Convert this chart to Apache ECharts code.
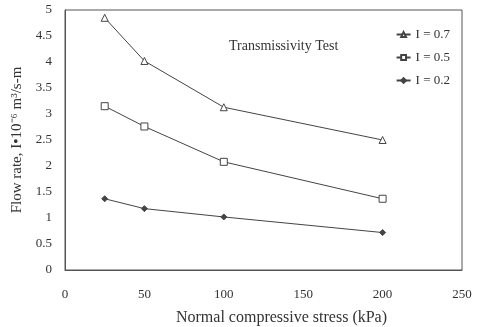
<!DOCTYPE html>
<html><head><meta charset="utf-8">
<script src="https://cdn.jsdelivr.net/npm/echarts@6/dist/echarts.min.js"></script>
<style>html,body{margin:0;padding:0;background:#fff}#c{width:483px;height:327px}</style>
</head><body><div id="c"></div>
<script>
const stress = [25, 50, 100, 200];
const flow07 = [4.85, 4.02, 3.13, 2.5];
const flow05 = [3.15, 2.76, 2.08, 1.37];
const flow02 = [1.37, 1.18, 1.02, 0.72];
const seriesNames = ['I = 0.7', 'I = 0.5', 'I = 0.2'];
const xTicks = [0, 50, 100, 150, 200, 250];
const yTicks = [0, 0.5, 1, 1.5, 2, 2.5, 3, 3.5, 4, 4.5, 5];

const font = 'Liberation Serif';
const txt = '#333';
const pair = (ys) => stress.map((x, i) => [x, ys[i]]);
const mk = (name, data, symbol, size, fill) => ({
  name, type: 'line', data: pair(data), symbol, symbolSize: size,
  lineStyle: { color: '#444', width: 1 },
  itemStyle: { color: fill, borderColor: '#444', borderWidth: 1 },
  emphasis: { disabled: true }
});
const chart = echarts.init(document.getElementById('c'));
chart.setOption({
  animation: false,
  backgroundColor: '#fff',
  textStyle: { fontFamily: font, color: txt },
  title: {
    text: 'Transmissivity Test', left: 224, top: 34,
    textStyle: { fontFamily: font, fontSize: 14, fontWeight: 'normal', color: txt }
  },
  legend: {
    data: seriesNames, orient: 'vertical', right: 28, top: 23,
    itemWidth: 14, itemHeight: 6, itemGap: 10,
    textStyle: { fontFamily: font, fontSize: 13, color: txt }
  },
  grid: { left: 65, right: 21, top: 10, bottom: 57, show: true, borderColor: '#555', borderWidth: 1,
          outerBoundsMode: 'none', containLabel: false },
  xAxis: {
    type: 'value', min: 0, max: 250, interval: 50,
    name: 'Normal compressive stress (kPa)', nameLocation: 'middle', nameGap: 40,
    nameTextStyle: { fontFamily: font, fontSize: 16, color: txt, padding: [0, 0, 0, 36] },
    axisLine: { lineStyle: { color: '#555' } },
    axisTick: { show: false },
    splitLine: { show: false },
    axisLabel: { fontFamily: font, fontSize: 13, color: txt, margin: 18 }
  },
  yAxis: {
    type: 'value', min: 0, max: 5, interval: 0.5,
    name: 'Flow rate, I\u202210\u207B\u2076 m\u00B3/s-m', nameLocation: 'middle', nameGap: 36,
    nameTextStyle: { fontFamily: font, fontSize: 15, color: txt },
    axisLine: { show: true, lineStyle: { color: '#555' } },
    axisTick: { show: false },
    splitLine: { show: false },
    axisLabel: { fontFamily: font, fontSize: 13, color: txt, margin: 13 }
  },
  series: [
    mk(seriesNames[0], flow07, 'triangle', 7, '#fff'),
    mk(seriesNames[1], flow05, 'rect', 7, '#fff'),
    mk(seriesNames[2], flow02, 'diamond', 6, '#444')
  ]
});
</script></body></html>
